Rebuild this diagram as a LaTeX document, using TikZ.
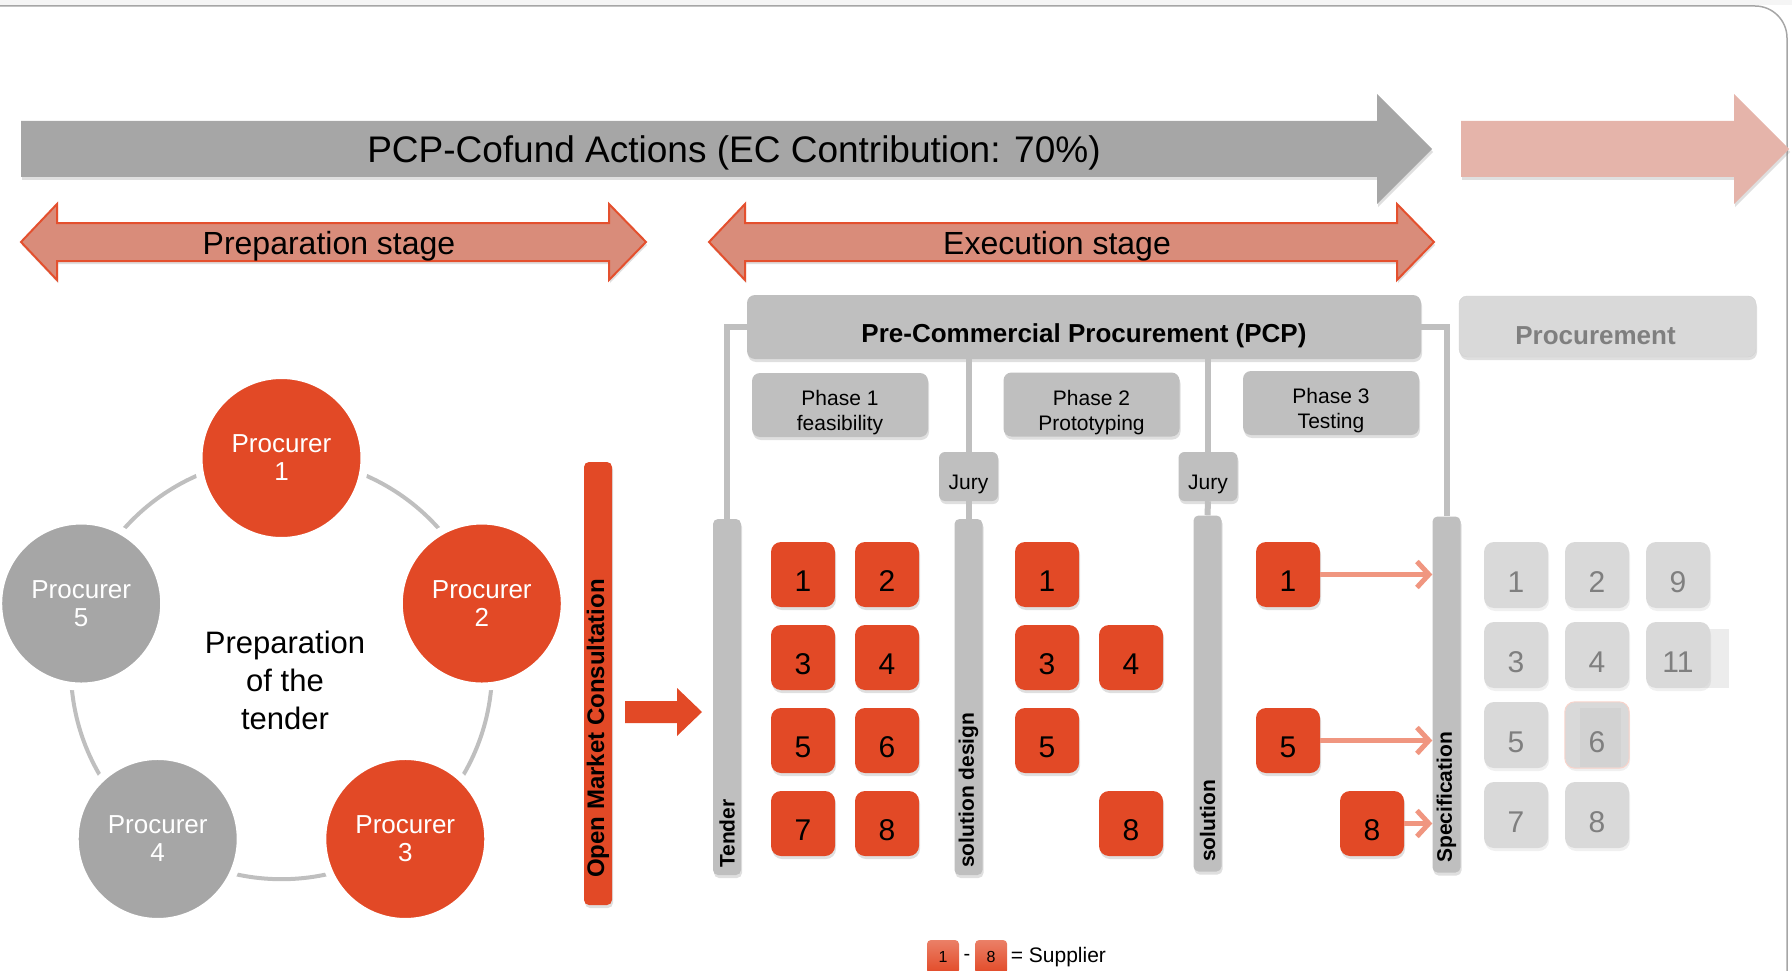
\documentclass[tikz,border=0pt]{standalone}
\usepackage{fontspec}
\setmainfont{Liberation Sans}
\usepackage{xcolor}
\usepackage{tikz}
\usetikzlibrary{positioning,calc,shadows,arrows.meta}

\definecolor{pcpred}{RGB}{226,73,38}
\definecolor{darkgrey}{RGB}{166,166,166}
\definecolor{bargrey}{RGB}{191,191,191}
\definecolor{lightgrey}{RGB}{217,217,217}
\definecolor{numgrey}{RGB}{127,127,127}
\definecolor{stagefill}{RGB}{217,140,122}
\definecolor{stageline}{RGB}{228,80,46}
\definecolor{feedline}{RGB}{240,150,128}
\definecolor{pinkarrow}{RGB}{229,180,170}

\begin{document}
\begin{tikzpicture}[x=1pt, y=-1pt,
    soft shadow/.style={drop shadow={opacity=.25, shadow xshift=1pt, shadow yshift=-3pt}},
    procurer/.style={circle, minimum size=166pt, draw=white, line width=8pt, text=white, align=center, font=\fontsize{26}{28}\selectfont},
    supplier/.style={rectangle, rounded corners=10pt, fill=pcpred, minimum width=64pt, minimum height=65pt, text height=34pt, text depth=0pt, font=\fontsize{30}{30}\selectfont, soft shadow},
    spare/.style={rectangle, rounded corners=10pt, fill=lightgrey, text=numgrey, minimum width=64pt, minimum height=66pt, text height=34pt, text depth=0pt, font=\fontsize{30}{30}\selectfont, drop shadow={opacity=.12, shadow xshift=1pt, shadow yshift=-3pt}},
    bar/.style={rectangle, rounded corners=5pt, fill=bargrey, minimum width=28pt, minimum height=356pt, soft shadow},
    bar label/.style={rotate=90, anchor=west, inner sep=0pt, font=\bfseries\fontsize{21}{21}\selectfont},
    head/.style={rectangle, rounded corners=8pt, minimum height=64pt, soft shadow},
    head text/.style={font=\bfseries\fontsize{26}{26}\selectfont},
    phase/.style={rectangle, rounded corners=8pt, fill=bargrey, minimum width=176pt, minimum height=64pt, soft shadow},
    phase text/.style={align=center, font=\fontsize{21}{25}\selectfont},
    jury/.style={rectangle, rounded corners=6pt, fill=bargrey, minimum width=59pt, minimum height=49pt, text height=29pt, text depth=4pt, font=\fontsize{21}{21}\selectfont, soft shadow},
    link/.style={draw=bargrey, line width=6pt},
    feed/.style={draw=feedline, line width=5pt, -{Straight Barb[length=12pt, width=26pt]}},
    legend box/.style={rectangle, rounded corners=4pt, top color=pcpred!70!white, bottom color=pcpred, minimum width=32pt, minimum height=34pt, font=\fontsize{16}{16}\selectfont}]

\useasboundingbox (0,0) rectangle (1792,971);

% frame
\fill[gray!8] (0,0) rectangle (1792,5);
\draw[gray!70, line width=1.5pt, rounded corners=32pt] (-10,6) -- (1787,6) -- (1787,990);

% funding arrows
\fill[darkgrey, soft shadow] (21,121) -- (1377,121) -- (1377,94) -- (1432,149) -- (1377,204) -- (1377,177) -- (21,177) -- cycle;
\node[font=\fontsize{37}{37}\selectfont] (cofund) at (734,153) {PCP-Cofund Actions (EC Contribution: 70\%)};
\fill[pinkarrow, soft shadow] (1461,121) -- (1734,121) -- (1734,94) -- (1789,149) -- (1734,204) -- (1734,177) -- (1461,177) -- cycle;

% stages
\filldraw[fill=stagefill, draw=stageline, line width=2pt, soft shadow] (21,242) -- (57,204) -- (57,223) -- (609,223) -- (609,204) -- (646,242) -- (609,280) -- (609,261) -- (57,261) -- (57,280) -- cycle;
\node[font=\fontsize{32}{32}\selectfont] (prep) at (329,246) {Preparation stage};
\filldraw[fill=stagefill, draw=stageline, line width=2pt, soft shadow] (709,242) -- (745,204) -- (745,223) -- (1397,223) -- (1397,204) -- (1434,242) -- (1397,280) -- (1397,261) -- (745,261) -- (745,280) -- cycle;
\node[font=\fontsize{32}{32}\selectfont] (exec) at (1057,246) {Execution stage};

% procurers
\draw[bargrey, line width=4pt] (281.5,668.6) circle[radius=210.6];
\foreach \i/\c in {1/pcpred, 2/pcpred, 3/pcpred, 4/darkgrey, 5/darkgrey}
    \node[procurer, fill=\c] (buyer\i) at ({281.5+210.6*sin(72*(\i-1))},{668.6-210.6*cos(72*(\i-1))}) {Procurer\\\i};
\node[align=center, font=\fontsize{31}{38}\selectfont] (tender text) at (285,680) {Preparation\\of the\\tender};

% open market consultation
\node[rectangle, rounded corners=5pt, fill=pcpred, minimum width=28pt, minimum height=443pt, soft shadow] (omc) at (598,683.5) {};
\node[bar label, font=\bfseries\fontsize{24}{24}\selectfont] at (598,878) {Open Market Consultation};
\fill[pcpred] (625,701) -- (677,701) -- (677,688) -- (702,712) -- (677,736) -- (677,723) -- (625,723) -- cycle;

% PCP header
\node[head, fill=bargrey, minimum width=674pt] (pcp) at (1084,327) {};
\node[head text] at ([yshift=-9pt]pcp.center) {Pre-Commercial Procurement (PCP)};
\node[head, fill=lightgrey, draw=bargrey!70, minimum width=297pt, minimum height=61pt] (proc) at (1607.5,326.5) {};
\node[head text, text=numgrey] at ([xshift=-12pt, yshift=-9pt]proc.center) {Procurement};

\node[phase] (phase1) at (840,405) {};
\node[phase] (phase2) at (1091.5,404.5) {};
\node[phase] (phase3) at (1331,403) {};
\node[phase text] at ([yshift=-8pt]phase1.center) {Phase 1\\feasibility};
\node[phase text] at ([yshift=-8pt]phase2.center) {Phase 2\\Prototyping};
\node[phase text] at ([yshift=-8pt]phase3.center) {Phase 3\\Testing};
\node[jury] (jury1) at (968.5,476.5) {Jury};
\node[jury] (jury2) at (1208,476.5) {Jury};

\node[bar] (tender) at (727,697) {};
\node[bar] (design) at (968.5,697) {};
\node[bar] (solution) at (1207.5,693.5) {};
\node[bar] (spec) at (1446.5,694.5) {};
\node[bar label] at (727,868) {Tender};
\node[bar label] at (968.5,868) {solution design};
\node[bar label] at (1207.5,862) {solution};
\node[bar label] at (1446.5,863) {Specification};

\draw[link] (pcp.west) -| (tender.north);
\draw[link] (pcp.east) -| (spec.north);
\draw[link] (pcp.south -| jury1) -- (jury1.north);
\draw[link] (jury1.south) -- (design.north);
\draw[link] (pcp.south -| jury2) -- (jury2.north);
\draw[link] (jury2.south) -- (solution.north);

% suppliers
\foreach \n/\c/\r in {1/0/0, 2/1/0, 3/0/1, 4/1/1, 5/0/2, 6/1/2, 7/0/3, 8/1/3}
    \node[supplier] (a\n) at ({803+84*\c},{574.5+83*\r}) {\n};
\foreach \n/\c/\r in {1/0/0, 3/0/1, 4/1/1, 5/0/2, 8/1/3}
    \node[supplier] (b\n) at ({1047+84*\c},{574.5+83*\r}) {\n};
\foreach \n/\c/\r in {1/0/0, 5/0/2, 8/1/3}
    \node[supplier] (c\n) at ({1288+84*\c},{574.5+83*\r}) {\n};

\foreach \n in {1,5,8}
    \draw[feed] (c\n.east) -- (c\n.east -| spec.west);

% procurement
\fill[gray!15] (1680,629) rectangle (1729,688);
\foreach \n/\c/\r in {1/0/0, 2/1/0, 9/2/0, 3/0/1, 4/1/1, 11/2/1, 5/0/2, 6/1/2, 7/0/3, 8/1/3}
    \node[spare] (d\n) at ({1516+81*\c},{575+80*\r}) {};
\fill[gray!35] (1580,708) rectangle (1621,767);
\draw[pcpred!25, line width=1pt, rounded corners=10pt] (d6.south west) rectangle (d6.north east);
\foreach \n in {1,2,9,3,4,11,5,6,7,8}
    \node[text=numgrey, text height=34pt, text depth=0pt, font=\fontsize{30}{30}\selectfont] at (d\n) {\n};

% legend
\node[legend box] (l1) at (943,957) {1};
\node[right=1pt of l1, font=\fontsize{20}{20}\selectfont] (dash) {-};
\node[legend box, right=1pt of dash] (l8) {8};
\node[right=0pt of l8, font=\fontsize{21}{21}\selectfont] (sup) {= Supplier};
\end{tikzpicture}
\end{document}
